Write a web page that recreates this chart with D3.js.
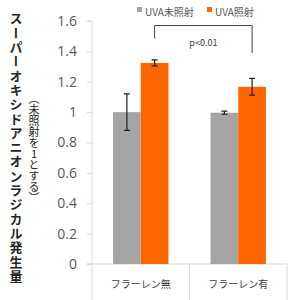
<!DOCTYPE html>
<html>
  <head>
    <meta charset="utf-8" />
    <script src="https://cdnjs.cloudflare.com/ajax/libs/d3/7.6.1/d3.min.js"></script>
    <style>
      body { margin: 0; background: #fff; }
      svg { width: 300px; height: 300px; font-family: "Noto Sans CJK JP", "Noto Sans", sans-serif; }
    </style>
  </head>
  <body>
    <svg></svg>
  </body>
  <script>
    const categories = ["フラーレン無", "フラーレン有"];
    const seriesNames = ["UVA未照射", "UVA照射"];
    const unexposed = [1.0, 0.996];
    const unexposedErr = [0.12, 0.01];
    const exposed = [1.324, 1.167];
    const exposedErr = [0.02, 0.055];
    const yTicks = [0, 0.2, 0.4, 0.6, 0.8, 1, 1.2, 1.4, 1.6];

    const gray = "#a5a5a5",
      orange = "#ff6600",
      axisColor = "#d9d9d9",
      textColor = "#595959";

    const svg = d3.select("svg");

    const xScale = d3.scaleBand().domain(categories).range([92, 287]);
    const inner = d3.scaleBand().domain(seriesNames).range([0, xScale.bandwidth()]).paddingOuter(0.76).paddingInner(0);
    const yScale = d3.scaleLinear().domain([0, 1.6]).range([264, 21]);

    // y axis
    const yAxis = d3.axisLeft(yScale).tickValues(yTicks).tickSize(5).tickPadding(10)
      .tickFormat((d) => d3.format("")(d));
    const yG = svg.append("g").attr("transform", "translate(92,0)").call(yAxis);
    yG.select(".domain").attr("stroke", axisColor).attr("d", "M-5,21H0V264H-5");
    yG.selectAll(".tick line").attr("stroke", axisColor);
    yG.selectAll(".tick text").attr("fill", textColor).style("font-size", "14px").style("font-family", "'Open Sans', 'Noto Sans', sans-serif");

    // x axis with category dividers
    svg.append("line").attr("x1", 87).attr("x2", 287).attr("y1", 264).attr("y2", 264).attr("stroke", axisColor);
    const edges = categories.map((c) => xScale(c)).concat([xScale.range()[1]]);
    svg.selectAll("line.div").data(edges).enter().append("line")
      .attr("x1", (d) => d).attr("x2", (d) => d).attr("y1", 264).attr("y2", 300)
      .attr("stroke", axisColor);
    svg.selectAll("text.cat").data(categories).enter().append("text")
      .attr("x", (d) => xScale(d) + xScale.bandwidth() / 2).attr("y", 288)
      .attr("text-anchor", "middle").attr("fill", "#404040").style("font-size", "10px")
      .text((d) => d);

    const groups = [
      { name: seriesNames[0], vals: unexposed, errs: unexposedErr, color: gray },
      { name: seriesNames[1], vals: exposed, errs: exposedErr, color: orange },
    ];

    groups.forEach((g) => {
      const rows = categories.map((c, i) => ({ c, v: g.vals[i], e: g.errs[i] }));
      svg.selectAll(null).data(rows).enter().append("rect")
        .attr("x", (d) => xScale(d.c) + inner(g.name))
        .attr("width", inner.bandwidth())
        .attr("y", (d) => yScale(d.v))
        .attr("height", (d) => yScale(0) - yScale(d.v))
        .attr("fill", g.color);
      const cx = (d) => xScale(d.c) + inner(g.name) + inner.bandwidth() / 2;
      svg.selectAll(null).data(rows).enter().append("path")
        .attr("d", (d) => {
          const x = cx(d), t = yScale(d.v + d.e), b = yScale(d.v - d.e);
          return `M${x - 3},${t}H${x + 3}M${x},${t}V${b}M${x - 3},${b}H${x + 3}`;
        })
        .attr("stroke", "#222").attr("stroke-width", 1.2).attr("fill", "none");
    });

    // significance bracket
    const bx1 = xScale(categories[0]) + inner(seriesNames[1]) + inner.bandwidth() / 2;
    const bx2 = xScale(categories[1]) + inner(seriesNames[1]) + inner.bandwidth() / 2;
    const bTop = yScale(1.57);
    svg.append("path")
      .attr("d", `M${bx1},${yScale(1.485)}V${bTop}H${bx2}V${yScale(1.39)}`)
      .attr("stroke", "#404040").attr("stroke-width", 1).attr("fill", "none");
    svg.append("text").attr("x", (bx1 + bx2) / 2).attr("y", 46).attr("text-anchor", "middle")
      .attr("fill", "#404040").style("font-size", "9px").text("p<0.01");

    // legend
    const legendX = [137, 207];
    const leg = svg.selectAll("g.leg").data(groups).enter().append("g")
      .attr("transform", (d, i) => `translate(${legendX[i]},6)`);
    leg.append("rect").attr("width", 5).attr("height", 5).attr("y", 1).attr("fill", (d) => d.color);
    leg.append("text").attr("x", 8).attr("y", 7.5).attr("dominant-baseline", "middle")
      .attr("fill", textColor).style("font-size", "10px").text((d) => d.name);

    // y titles (vertical)
    svg.append("text").attr("x", 16).attr("y", 12)
      .style("writing-mode", "vertical-rl").style("text-orientation", "upright")
      .style("font-size", "13px").style("font-weight", "bold").attr("fill", "#262626")
      .attr("letter-spacing", 1.3)
      .text("スーパーオキシドアニオンラジカル発生量");
    svg.append("text").attr("x", 34).attr("y", 93)
      .style("writing-mode", "vertical-rl").style("text-orientation", "upright")
      .style("font-size", "11px").attr("fill", "#262626")
      .text("（未照射を1とする）");
  </script>
</html>
